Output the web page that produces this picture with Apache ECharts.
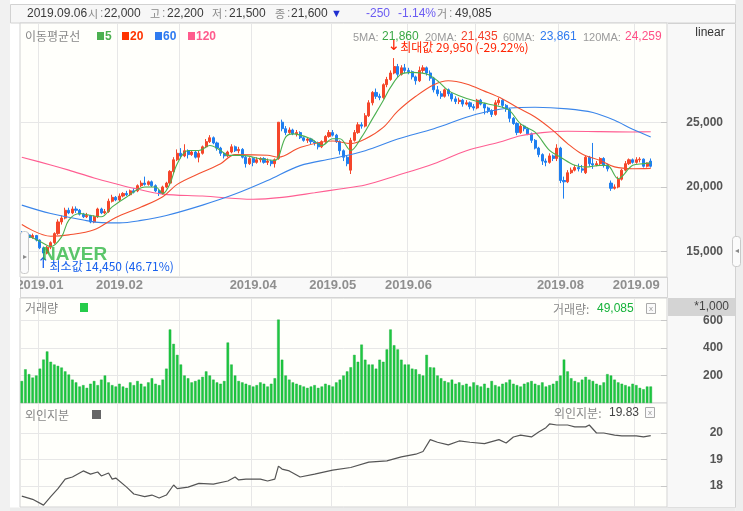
<!DOCTYPE html>
<html><head><meta charset="utf-8">
<script src="https://cdn.jsdelivr.net/npm/echarts@6/dist/echarts.min.js"></script>
<style>html,body{margin:0;padding:0;background:#fff;}#c{width:743px;height:511px;}</style>
</head><body><div id="c"></div>
<script>
// ---------------- DATA ----------------
const dates = [
'2018.12.21','2018.12.24','2018.12.26','2018.12.27','2018.12.28',
'2019.01.02','2019.01.03','2019.01.04','2019.01.07','2019.01.08','2019.01.09','2019.01.10','2019.01.11','2019.01.14','2019.01.15','2019.01.16','2019.01.17','2019.01.18','2019.01.21','2019.01.22','2019.01.23','2019.01.24','2019.01.25','2019.01.28','2019.01.29','2019.01.30','2019.01.31',
'2019.02.01','2019.02.07','2019.02.08','2019.02.11','2019.02.12','2019.02.13','2019.02.14','2019.02.15','2019.02.18','2019.02.19','2019.02.20','2019.02.21','2019.02.22','2019.02.25','2019.02.26','2019.02.27','2019.02.28',
'2019.03.04','2019.03.05','2019.03.06','2019.03.07','2019.03.08','2019.03.11','2019.03.12','2019.03.13','2019.03.14','2019.03.15','2019.03.18','2019.03.19','2019.03.20','2019.03.21','2019.03.22','2019.03.25','2019.03.26','2019.03.27','2019.03.28','2019.03.29',
'2019.04.01','2019.04.02','2019.04.03','2019.04.04','2019.04.05','2019.04.08','2019.04.09','2019.04.10','2019.04.11','2019.04.12','2019.04.15','2019.04.16','2019.04.17','2019.04.18','2019.04.19','2019.04.22','2019.04.23','2019.04.24','2019.04.25','2019.04.26','2019.04.29','2019.04.30',
'2019.05.02','2019.05.03','2019.05.07','2019.05.08','2019.05.09','2019.05.10','2019.05.13','2019.05.14','2019.05.15','2019.05.16','2019.05.17','2019.05.20','2019.05.21','2019.05.22','2019.05.23','2019.05.24','2019.05.27','2019.05.28','2019.05.29','2019.05.30','2019.05.31',
'2019.06.03','2019.06.04','2019.06.05','2019.06.07','2019.06.10','2019.06.11','2019.06.12','2019.06.13','2019.06.14','2019.06.17','2019.06.18','2019.06.19','2019.06.20','2019.06.21','2019.06.24','2019.06.25','2019.06.26','2019.06.27','2019.06.28',
'2019.07.01','2019.07.02','2019.07.03','2019.07.04','2019.07.05','2019.07.08','2019.07.09','2019.07.10','2019.07.11','2019.07.12','2019.07.15','2019.07.16','2019.07.17','2019.07.18','2019.07.19','2019.07.22','2019.07.23','2019.07.24','2019.07.25','2019.07.26','2019.07.29','2019.07.30','2019.07.31',
'2019.08.01','2019.08.02','2019.08.05','2019.08.06','2019.08.07','2019.08.08','2019.08.09','2019.08.12','2019.08.13','2019.08.14','2019.08.16','2019.08.19','2019.08.20','2019.08.21','2019.08.22','2019.08.23','2019.08.26','2019.08.27','2019.08.28','2019.08.29','2019.08.30',
'2019.09.02','2019.09.03','2019.09.04','2019.09.05','2019.09.06'
];

// [open, close, low, high]
const ohlc = [
[16400,16300,16200,16600],[16300,16350,16100,16500],[16300,16100,15950,16450],[16100,16250,16000,16400],[16250,15900,15800,16300],
[15900,15300,15200,15950],[15300,14900,14450,15400],[14900,15350,14800,15450],[15350,15700,15200,15800],[15700,16400,15600,16500],
[16400,17300,16300,17500],[17300,17600,17100,17800],[17600,18200,17500,18400],[18200,18000,17900,18400],[18000,18300,17900,18500],
[18300,18200,18000,18500],[18200,17900,17800,18300],[17900,17700,17600,18000],[17700,17800,17600,18000],[17800,17300,17200,17850],
[17300,17700,17200,17800],[17700,18300,17600,18400],[18300,18000,17900,18400],[18000,18100,17900,18300],[18100,18900,18000,19100],
[18900,19200,18800,19400],[19200,19000,18900,19300],[19000,19300,18900,19500],[19300,19500,19200,19600],[19500,19400,19300,19700],
[19400,19700,19300,19800],[19700,19600,19500,19900],[19700,20100,19600,20200],[20100,20300,20000,20500],[20300,20200,20100,20800],
[20200,20400,20100,20500],[20400,20100,20000,20500],[20100,19700,19600,20200],[19700,19500,19300,19800],[19500,20000,19400,20100],
[20000,20300,19900,20400],[20300,21200,20200,21300],[21200,22100,21000,22300],[22100,22600,22000,22900],[22600,22400,22200,23000],
[22400,22800,22300,23300],[22800,22500,22200,22900],[22500,22700,22400,22800],[22700,22300,22200,22800],[22300,22600,21900,22800],
[22600,23100,22500,23200],[23100,23500,23000,23700],[23500,23800,23400,24000],[23800,23400,23300,23900],[23400,23000,22800,23500],
[23000,22600,22400,23100],[22600,22400,22200,22700],[22400,22700,22300,22800],[22700,23100,22600,23300],[23100,22800,22700,23200],
[22800,22900,22600,23100],[22900,22300,22200,23000],[22300,21800,21500,22400],[21800,22200,21700,22300],[22200,21900,21600,22300],
[21900,22100,21800,22300],[22100,22200,21900,22300],[22200,21900,21800,22300],[21900,22000,21700,22200],[22000,21800,21600,22100],
[21800,22100,21500,22200],[22200,25000,22100,25000],[25000,24500,24300,25200],[24500,24200,24000,24700],[24200,24400,24100,24600],
[24400,24100,24000,24500],[24100,24200,23900,24400],[24200,23800,23700,24300],[23800,23600,23500,23900],[23600,23700,23400,23800],
[23700,23500,23300,23800],[23500,23400,23200,23600],[23400,23100,22900,23500],[23100,23500,23000,23600],[23500,23900,23400,24000],
[23900,24200,23800,24400],[24200,24000,23900,24400],[24000,23500,23400,24100],[23500,22800,22500,23600],[22800,22300,22000,22900],
[22300,21800,21600,22400],[21300,23600,21000,23800],[23600,24200,23500,24400],[24200,24800,24100,25000],[24800,24700,24500,25000],
[24700,25500,24600,25700],[25500,26500,25400,26700],[26500,27300,26300,27400],[27300,27000,26800,27600],[27000,26900,26700,27200],
[26900,27900,26800,28000],[27900,28300,27700,28500],[28300,28800,28200,29000],[28800,29300,28700,29950],[29300,28700,28500,29500],
[28700,29200,28600,29400],[29200,29000,28800,29500],[29000,28900,28700,29200],[28900,28500,28300,29000],[28500,28200,27900,28600],
[28200,29000,28100,29300],[29000,29200,28800,29400],[29200,28800,28600,29300],[28800,28400,28200,29000],[28400,27500,27300,28500],
[27500,27200,27000,27800],[27200,27000,26800,27400],[27000,27500,26900,27600],[27500,27200,27000,27600],[27200,26800,26600,27300],
[26800,26600,26400,27000],[26600,26700,26400,26900],[26700,26400,26200,26800],[26400,26500,26300,26700],[26500,26200,26000,26600],
[26200,26100,25900,26400],[26100,26700,26000,26800],[26700,26400,26300,26800],[26400,26100,25600,26500],[26100,25900,25700,26200],
[25900,25600,25400,26000],[25600,26500,25500,26700],[26500,26700,26300,26900],[26700,26300,26100,26800],[26300,26000,25800,26400],
[26000,25300,25000,26100],[25300,24900,24800,25400],[24900,24200,24000,25000],[24200,24700,24100,24900],[24700,24500,24300,24800],
[24500,24100,24000,24600],[24100,23600,23400,24200],[23600,23000,22900,23700],[23000,22500,22300,23100],[22500,22000,21700,22600],
[22000,21900,21600,22200],[21900,22400,21800,22600],[22400,22200,22000,22500],[22200,23000,22000,23300],[23000,20500,20300,23100],
[20500,20400,19100,20800],[20400,21100,20300,21300],[21100,21300,21000,21500],[21300,21500,21200,21700],[21500,21400,21200,21800],
[21400,21300,21100,21700],[21100,22300,21000,22400],[22300,21800,21600,22400],[21800,21700,21400,23400],[21700,21800,21600,22000],
[21800,22200,21700,22300],[22200,21700,21500,22300],[21700,21400,21200,21800],[20300,19900,19700,20500],[19900,20000,19800,20200],
[20000,20600,19900,20800],[20600,21300,20500,21400],[21300,21800,21200,22000],[21800,22100,21700,22200],[22100,21900,21800,22200],
[21900,22100,21800,22300],[22100,22150,21900,22300],[22150,21600,21500,22200],[21600,21850,21500,21900],[22000,21600,21500,22200]
];

// volume, thousands of shares
const volumes = [
160,245,210,185,200,250,316,375,300,280,
270,258,230,207,170,150,120,130,110,140,
160,130,170,200,150,130,120,140,120,110,
150,130,160,140,120,150,180,140,130,170,
250,535,430,350,280,200,180,150,160,170,
190,230,200,170,150,140,160,440,280,200,
160,150,140,130,120,130,150,140,120,140,
180,607,315,200,170,150,140,130,120,110,
120,130,110,120,140,130,120,150,170,200,
230,260,350,300,425,315,280,280,250,315,
300,390,535,420,390,315,280,280,250,245,
210,200,350,260,258,200,180,160,150,170,
140,150,130,140,120,150,130,120,140,110,
160,130,120,140,150,170,140,130,120,140,
150,160,140,130,150,120,130,140,160,200,
316,230,180,160,150,170,190,170,160,140,
130,150,210,200,170,150,140,130,120,140,
130,110,100,120,120
];

// moving averages: [dayIndex, value]
const ma5 = [[2,16200],[5,15800],[8,15400],[11,16150],[13,17440],[16,17950],[19,17800],[22,17700],[25,18460],[29,19230],[34,20000],[37,20000],[39,19490],[41,20260],[43,21800],[46,22820],[49,22820],[52,23200],[55,22820],[57,22440],[61,22440],[66,22180],[70,22050],[73,23850],[75,24100],[80,23720],[83,23200],[86,23720],[88,23720],[91,22820],[94,23850],[97,25260],[100,26670],[102,27690],[105,28720],[108,28850],[112,28720],[115,28200],[118,27440],[121,27050],[125,26670],[129,26410],[133,26150],[135,25900],[138,24870],[142,24230],[146,22820],[149,22300],[153,21670],[156,21540],[160,21670],[162,21670],[165,20640],[169,21670],[172,21800],[174,21860]];
const ma20 = [[0,17100],[8,16200],[13,16300],[20,16700],[26,17650],[33,18450],[39,19250],[43,20200],[50,21150],[55,21800],[59,22500],[68,22450],[71,22300],[77,23050],[86,23550],[91,23350],[95,23700],[100,24600],[104,25850],[109,27000],[114,27900],[118,28200],[123,27950],[128,27400],[133,26800],[137,26150],[142,25400],[147,24350],[151,23350],[155,22550],[160,22050],[164,21550],[169,21410],[174,21435]];
const ma60 = [[0,18600],[8,17950],[17,17450],[22,17250],[27,17230],[33,17420],[40,17800],[50,18600],[59,19450],[68,20500],[77,21650],[86,22200],[95,22800],[104,23700],[114,24500],[123,25380],[128,25770],[135,26100],[142,26150],[151,26030],[158,25750],[164,25150],[169,24450],[174,23861]];
const ma120 = [[0,22300],[8,21700],[13,21300],[20,20700],[26,20250],[31,19900],[39,19450],[50,19300],[64,19050],[72,19200],[81,19550],[88,19850],[95,20150],[104,20900],[114,21800],[123,22800],[132,23450],[138,23950],[144,24200],[151,24300],[160,24270],[169,24250],[174,24259]];

// foreign ownership (%): [dayIndex, value]
const foreign = [[0,17.62],[3,17.5],[6,17.28],[8,17.6],[10,17.9],[12,18.26],[14,18.34],[17,18.57],[19,18.45],[21,18.53],[22,18.38],[24,18.49],[25,18.26],[26,18.3],[29,17.96],[31,17.7],[34,17.6],[36,17.66],[38,17.55],[40,17.66],[42,18.04],[43,17.9],[46,17.96],[49,18.1],[53,18.07],[57,18.19],[59,18.34],[60,18.23],[62,18.26],[66,18.26],[68,18.19],[70,18.26],[71,18.75],[72,18.64],[74,18.57],[77,18.34],[81,18.45],[86,18.6],[91,18.7],[96,18.9],[101,18.95],[105,19.1],[109,19.2],[111,19.3],[113,19.75],[115,19.65],[118,19.55],[121,19.7],[124,19.65],[128,19.6],[132,19.75],[134,19.62],[136,19.85],[138,19.92],[141,19.85],[143,20.04],[145,20.2],[146,20.34],[148,20.3],[151,20.3],[153,20.23],[156,20.23],[157,20.3],[159,20.0],[161,20.0],[164,19.92],[166,19.89],[170,19.89],[172,19.85],[174,19.9]];

const priceTicks = [15000, 20000, 25000];
const volumeTicks = [200, 400, 600];
const foreignTicks = [18, 19, 20];
const labeledMonths = ['2019.01','2019.02','2019.04','2019.05','2019.06','2019.08','2019.09'];
const blankDays = 4;

const maxText = '최대값 29,950 (-29.22%)';
const minText = '최소값 14,450 (46.71%)';
const maLast = ['21,860','21,435','23,861','24,259'];

// ---------------- CHART ----------------
const categories = dates.concat(new Array(blankDays).fill(''));
const isMonthStart = i => i > 0 && categories[i] !== '' && categories[i].slice(0,7) !== categories[i-1].slice(0,7);
const showLabel = i => isMonthStart(i) && labeledMonths.indexOf(categories[i].slice(0,7)) >= 0;

let maxIdx = 0, minIdx = 0;
ohlc.forEach((d, i) => { if (d[3] > ohlc[maxIdx][3]) maxIdx = i; if (d[2] < ohlc[minIdx][2]) minIdx = i; });

const UP = '#f5462a', DOWN = '#1f7ff0';
const C5 = '#4cb050', C20 = '#f4502f', C60 = '#3b86ea', C120 = '#ff5e92';
const GRID = '#e7e7e7';
const NUMF = 'Liberation Sans, Arial, sans-serif';
const KRF = 'Noto Sans CJK KR, sans-serif';

const L = 20, R = 76;
function xAxisCfg(gi, labels) {
  return {
    gridIndex: gi, type: 'category', data: categories, boundaryGap: true,
    axisLine: {show: false}, axisTick: {show: false},
    axisLabel: labels ? {show: true, interval: (i) => showLabel(i), formatter: v => v.slice(0,7),
      color: '#8f8f8f', fontWeight: 'bold', fontSize: 13, fontFamily: NUMF, margin: 2} : {show: false},
    splitLine: {show: true, interval: (i) => isMonthStart(i), lineStyle: {color: GRID, width: 1}}
  };
}
function yAxisCfg(gi, min, max, ticks, fmt) {
  return {
    gridIndex: gi, type: 'value', position: 'right', min: min, max: max,
    axisLine: {show: false},
    axisTick: {show: true, inside: true, length: 6, customValues: ticks, lineStyle: {color: '#c8c8c8'}},
    axisLabel: {customValues: ticks, formatter: fmt, align: 'right', margin: 56,
      color: '#555', fontWeight: 'bold', fontSize: 12, fontFamily: NUMF},
    splitLine: {show: true, lineStyle: {color: GRID, width: 1}}
  };
}
function maSeries(name, data, color) {
  return {name: name, type: 'line', xAxisIndex: 0, yAxisIndex: 0, data: data, smooth: 0.35,
    symbol: 'none', lineStyle: {color: color, width: 1.1}, z: 5, silent: true};
}

// decoration / text helpers
const G = [];
function rect(x, y, w, h, fill, stroke, z) {
  G.push({type: 'rect', shape: {x: x, y: y, width: w, height: h}, style: {fill: fill, stroke: stroke || null, lineWidth: 1}, z: z === undefined ? -5 : z, silent: true});
}
function txt(x, y, s, color, size, opts) {
  opts = opts || {};
  G.push({type: 'text', x: x, y: y, z: 100, silent: true, style: {text: s, fill: color,
    font: (opts.bold ? 'bold ' : '') + size + 'px ' + (opts.font || NUMF),
    textAlign: opts.align || 'left', textVerticalAlign: 'middle'}});
}
// page strips
rect(0, 0, 10, 511, '#f1f1f1');
rect(735.5, 0, 8, 511, '#eeeeee');
rect(10.5, 4.5, 725, 18.5, '#f7f7f7', '#d2d2d2');
rect(667.5, 23.5, 68, 484, '#f8f8f8', '#d2d2d2');
rect(20.5, 277.5, 647, 20, '#f9f9f9', '#d6d6d6');
rect(668, 298, 67, 18, '#d4d4d4');
rect(10, 507.5, 725.5, 4, '#ececec');
// clip of the first month label at the chart's left edge
rect(10.5, 278, 9.5, 19, '#ffffff', null, 150);
// scroll handles
G.push({type: 'rect', shape: {x: 20.5, y: 231.5, width: 8, height: 42, r: 3}, style: {fill: '#fbfbfb', stroke: '#c9c9c9'}, z: 60, silent: true});
G.push({type: 'rect', shape: {x: 732.5, y: 236.5, width: 8, height: 30, r: 3}, style: {fill: '#fbfbfb', stroke: '#c9c9c9'}, z: 60, silent: true});
txt(24.5, 257, '▸', '#888', 8, {align: 'center'});
txt(736.5, 251, '◂', '#888', 8, {align: 'center'});

// header
const HC = '#3a3a3a', HL = '#8a8a8a', HV = '#6b5cf2';
txt(27, 14, '2019.09.06', HC, 12);
txt(88, 14, '시', HL, 11, {font: KRF}); txt(100, 13.5, ':', HL, 12); txt(104, 14, '22,000', HC, 12);
txt(150, 14, '고', HL, 11, {font: KRF}); txt(162, 13.5, ':', HL, 12); txt(167, 14, '22,200', HC, 12);
txt(212, 14, '저', HL, 11, {font: KRF}); txt(224, 13.5, ':', HL, 12); txt(229, 14, '21,500', HC, 12);
txt(275, 14, '종', HL, 11, {font: KRF}); txt(287, 13.5, ':', HL, 12); txt(291, 14, '21,600', HC, 12);
txt(331, 14, '▼', '#1f2fd0', 11);
txt(366, 14, '-250', HV, 12); txt(398, 14, '-1.14%', HV, 12);
txt(437, 14, '거', HL, 11, {font: KRF}); txt(449, 13.5, ':', HL, 12); txt(455, 14, '49,085', HC, 12);

// MA legend
txt(25, 36, '이동평균선', '#888', 12, {font: KRF});
[[97, '5', C5, 105], [122, '20', '#ff3300', 130], [155, '60', '#2f7bf0', 163], [188, '120', '#ff5b8d', 196]].forEach(a => {
  rect(a[0], 32, 7, 8, a[2], null, 100);
  txt(a[3], 36.5, a[1], a[2], 12, {bold: true});
});
txt(353, 38, '5MA:', '#9a9a9a', 11); txt(382, 37, maLast[0], '#3aa845', 12);
txt(425, 38, '20MA:', '#9a9a9a', 11); txt(461, 37, maLast[1], '#f4402a', 12);
txt(503, 38, '60MA:', '#9a9a9a', 11); txt(540, 37, maLast[2], '#2f7bf0', 12);
txt(583, 38, '120MA:', '#9a9a9a', 11); txt(625, 37, maLast[3], '#ff4f86', 12);
txt(710, 33, 'linear', '#333', 12, {align: 'center'});

// NAVER watermark
G.push({type: 'text', x: 42, y: 255, z: 50, silent: true, style: {text: 'NAVER', fill: 'rgba(45,182,65,0.78)',
  font: 'bold 19px Liberation Sans, sans-serif', textVerticalAlign: 'middle'}});

// volume panel texts
txt(25, 308, '거래량', '#888', 12, {font: KRF});
rect(80, 303, 8, 9, '#25cc4a', null, 100);
txt(553, 309, '거래량:', '#8a8a8a', 12, {font: KRF});
txt(597, 309, '49,085', '#16b23a', 12);
rect(646.5, 303.5, 9, 10, '#fafafa', '#aaa', 100); txt(651, 308.5, 'x', '#999', 8, {align: 'center'});
txt(729, 307, '*1,000', '#444', 12, {align: 'right'});
// foreign panel texts
txt(25, 415, '외인지분', '#888', 12, {font: KRF});
rect(92, 410, 9, 9, '#666', null, 100);
txt(554, 413, '외인지분:', '#8a8a8a', 12, {font: KRF});
txt(609, 413, '19.83', '#444', 12);
rect(645.5, 407.5, 9, 10, '#fafafa', '#aaa', 100); txt(650, 412.5, 'x', '#999', 8, {align: 'center'});

const gridStyle = {show: true, backgroundColor: '#fffffb', borderColor: '#d2d2d2', borderWidth: 1};
const option = {
  animation: false,
  backgroundColor: '#ffffff',
  grid: [
    Object.assign({left: L, right: R, top: 23, height: 254}, gridStyle),
    Object.assign({left: L, right: R, top: 298, height: 105}, gridStyle),
    Object.assign({left: L, right: R, top: 403, height: 104}, gridStyle)
  ],
  xAxis: [xAxisCfg(0, true), xAxisCfg(1, false), xAxisCfg(2, false)],
  yAxis: [
    yAxisCfg(0, 13050, 32660, priceTicks, v => v.toLocaleString('en-US')),
    yAxisCfg(1, 0, 764, volumeTicks, v => String(v)),
    yAxisCfg(2, 17.21, 21.13, foreignTicks, v => String(v))
  ],
  graphic: G,
  series: [
    {type: 'candlestick', xAxisIndex: 0, yAxisIndex: 0, data: ohlc, barWidth: '72%', z: 3,
     itemStyle: {color: UP, color0: DOWN, borderColor: UP, borderColor0: DOWN, borderWidth: 1},
     markPoint: {symbol: 'circle', symbolSize: 1, itemStyle: {color: 'rgba(0,0,0,0)'}, silent: true,
       data: [
         {coord: [maxIdx, ohlc[maxIdx][3]], label: {show: true, position: [-6, -19],
           formatter: '{a|↓}{b|' + maxText + '}',
           rich: {a: {fontSize: 15, color: '#ff2200', fontFamily: 'DejaVu Sans'}, b: {fontSize: 12, color: '#ff2200', fontFamily: KRF, padding: [3, 0, 0, 0]}}}},
         {coord: [minIdx, ohlc[minIdx][2]], label: {show: true, position: [-6, -2],
           formatter: '{a|↑}{b|' + minText + '}',
           rich: {a: {fontSize: 15, color: '#1760ee', fontFamily: 'DejaVu Sans'}, b: {fontSize: 12, color: '#1760ee', fontFamily: KRF, padding: [4, 0, 0, 0]}}}}
       ]}},
    maSeries('MA120', ma120, C120),
    maSeries('MA60', ma60, C60),
    maSeries('MA20', ma20, C20),
    maSeries('MA5', ma5, C5),
    {type: 'bar', xAxisIndex: 1, yAxisIndex: 1, data: volumes, barWidth: '70%',
     itemStyle: {color: '#1ec840', borderColor: '#12a834', borderWidth: 0.4}},
    {type: 'line', xAxisIndex: 2, yAxisIndex: 2, data: foreign, symbol: 'none',
     lineStyle: {color: '#555', width: 1.2}}
  ]
};
const chart = echarts.init(document.getElementById('c'));
chart.setOption(option);
</script></body></html>
